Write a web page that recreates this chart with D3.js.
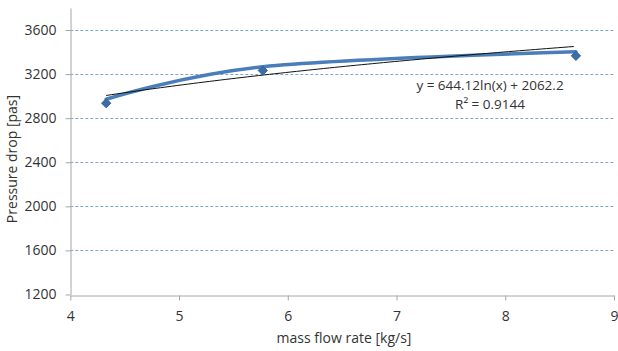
<!DOCTYPE html>
<html>
<head>
<meta charset="utf-8">
<script src="https://cdn.jsdelivr.net/npm/d3@7"></script>
<style>
  body { margin: 0; background: #fff; }
  text { font-family: "Open Sans", "Noto Sans", sans-serif; }
</style>
</head>
<body>
<script>
// data
const flowRates = [4.33, 5.77, 8.65];
const pressureDrops = [2972, 3267, 3403];      // smoothed series line
const markerDrops = [2936, 3233, 3366];        // markers sit a little below the line
const yTicks = [1200, 1600, 2000, 2400, 2800, 3200, 3600];
const xTicks = [4, 5, 6, 7, 8, 9];
// trendline y = a ln(x) + b, as printed on the chart
const trendCoefs = [644.12, 2062.2];
const trendLabels = ["y = 644.12ln(x) + 2062.2", "R² = 0.9144"];

const linePts = flowRates.map((x, i) => ({x: x, y: pressureDrops[i]}));
const markPts = flowRates.map((x, i) => ({x: x, y: markerDrops[i]}));

const svg = d3.select("body")
    .append("svg")
    .attr("width", 618)
    .attr("height", 351);

const x = d3.scaleLinear().domain([4, 9]).range([70.3, 614]);
const y = d3.scaleLinear().domain([1200, 3800]).range([294.5, 8]);

// gridlines
svg.append("g")
    .selectAll("line")
    .data(yTicks.filter(d => d > 1200))
    .join("line")
    .attr("x1", x(4))
    .attr("x2", x(9))
    .attr("y1", d => Math.round(y(d)) + 0.5)
    .attr("y2", d => Math.round(y(d)) + 0.5)
    .attr("stroke", "#7ea5d8")
    .attr("stroke-width", 1)
    .attr("stroke-dasharray", "3,2");

// axes
const xAxis = svg.append("g")
    .attr("transform", "translate(0," + (Math.round(y(1200)) + 0.5) + ")")
    .call(d3.axisBottom(x).tickValues(xTicks).tickFormat(d3.format("d"))
        .tickSize(5).tickSizeOuter(0).tickPadding(11));
const yAxis = svg.append("g")
    .attr("transform", "translate(" + (Math.round(x(4)) + 0.5) + ",0)")
    .call(d3.axisLeft(y).tickValues(yTicks).tickFormat(d3.format("d"))
        .tickSize(5).tickSizeOuter(0).tickPadding(9));

[xAxis, yAxis].forEach(g => {
    g.select(".domain").attr("stroke", "#a6a6a6");
    g.selectAll(".tick line").attr("stroke", "#a6a6a6");
    g.selectAll(".tick text")
        .attr("fill", "#333")
        .style("font-size", "14px");
});

// axis titles
svg.append("text")
    .attr("x", 344)
    .attr("y", 343)
    .attr("text-anchor", "middle")
    .attr("fill", "#333")
    .style("font-size", "14px")
    .text("mass flow rate [kg/s]");

svg.append("text")
    .attr("transform", "translate(17,159) rotate(-90)")
    .attr("text-anchor", "middle")
    .attr("fill", "#333")
    .style("font-size", "14px")
    .text("Pressure drop [pas]");

// smoothed series line
svg.append("path")
    .datum(linePts)
    .attr("fill", "none")
    .attr("stroke", "#4a7ebb")
    .attr("stroke-width", 3.5)
    .attr("stroke-linecap", "round")
    .attr("d", d3.line()
        .x(d => x(d.x))
        .y(d => y(d.y))
        .curve(d3.curveCardinal.tension(0)));

// trendline over the data range
const trendX = d3.range(flowRates[0], flowRates[flowRates.length - 1] + 0.001, 0.05);
svg.append("path")
    .datum(trendX)
    .attr("fill", "none")
    .attr("stroke", "#111")
    .attr("stroke-width", 1)
    .attr("d", d3.line()
        .x(d => x(d))
        .y(d => y(trendCoefs[0] * Math.log(d) + trendCoefs[1])));

// diamond markers
svg.append("g")
    .selectAll("path")
    .data(markPts)
    .join("path")
    .attr("transform", d => "translate(" + x(d.x) + "," + y(d.y) + ")")
    .attr("d", d3.symbol().type(d3.symbolDiamond2).size(55))
    .attr("fill", "#3d6ca6")
    .attr("stroke", "#35639c")
    .attr("stroke-width", 1);

// trendline label
svg.append("g")
    .selectAll("text")
    .data(trendLabels)
    .join("text")
    .attr("x", 490)
    .attr("y", (d, i) => 90 + i * 18.5)
    .attr("text-anchor", "middle")
    .attr("fill", "#333")
    .style("font-size", "13.5px")
    .text(d => d);
</script>
</body>
</html>
